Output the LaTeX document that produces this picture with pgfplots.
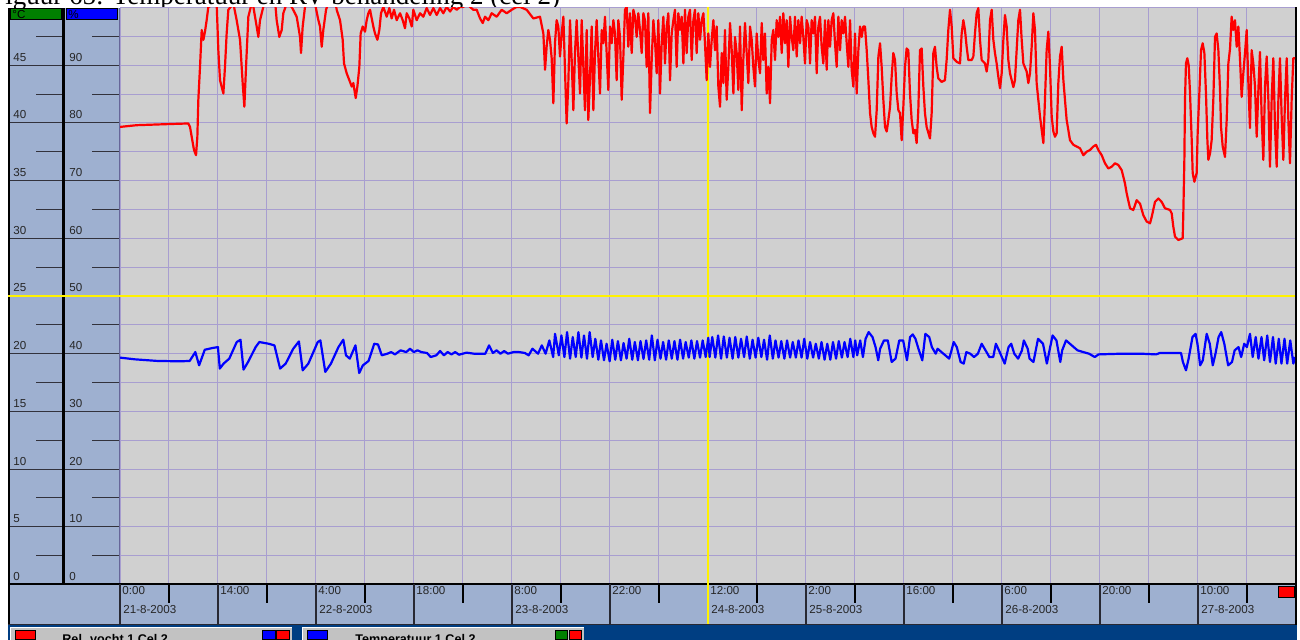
\documentclass[border=0pt]{standalone}
\usepackage{pgfplots}
\pgfplotsset{compat=1.18}
\usepackage{fontspec}
\setmainfont{Liberation Sans}
\newfontfamily\seriffont{Liberation Serif}
\definecolor{panelbg}{RGB}{158,176,208}
\definecolor{plotbg}{RGB}{208,208,208}
\definecolor{gridc}{RGB}{168,158,208}
\definecolor{legbar}{RGB}{0,62,130}
\definecolor{legbox}{RGB}{194,194,194}
\definecolor{hdrgreen}{RGB}{0,128,0}
\definecolor{hdrblue}{RGB}{0,0,255}
\definecolor{panelline}{RGB}{50,50,60}
\definecolor{sepline}{RGB}{40,40,50}
\definecolor{pureblue}{RGB}{0,0,255}
\definecolor{purered}{RGB}{255,0,0}
\newcommand\lab{\fontsize{5.8}{6}\selectfont}
\pgfplotsset{geo/.style={at={(60pt,27.75pt)}, anchor=south west, scale only axis,
  width=587.5pt, height=288.5pt, xmin=0, xmax=168}}
\begin{document}
\begin{tikzpicture}[x=0.5pt,y=0.5pt]
\useasboundingbox (0,0) rectangle (1300,640);
\fill[white] (0,0) rectangle (1300,640);
% title (cut off at the top)
\node[anchor=base west, inner sep=0, font=\seriffont\fontsize{13.5}{14}\selectfont] at (-10,635.5) {Figuur 65: Temperatuur en RV behandeling 2 (cel 2)};
% panels
\fill[panelbg] (8,56) rectangle (120,632);
\fill[panelbg] (8,15) rectangle (1297,56);
\fill[plotbg] (120,55.5) rectangle (1295,632.5);
% grid axis
\begin{axis}[geo, ymin=0, ymax=50, xtick={0,7,...,168}, ytick={0,2.5,...,50},
  xticklabels={}, yticklabels={}, grid=major, major grid style={draw=gridc, line width=0.5pt},
  major tick length=0pt, axis line style={draw=none}]
\addplot[draw=none] coordinates {(0,0)};
\end{axis}
% panel scales
\foreach \v in {0,5,...,45} {
  \pgfmathsetmacro\Y{55.5+\v*11.54}
  \pgfmathtruncatemacro\p{2*\v}
  \draw[panelline, line width=0.5pt] (8,\Y) -- (120,\Y);
  \node[anchor=west, inner sep=0, font=\lab, text=black!85] at (13,\Y+8) {\v};
  \node[anchor=west, inner sep=0, font=\lab, text=black!85] at (69,\Y+8) {\p};
}
\foreach \v in {2.5,7.5,...,47.5} {
  \pgfmathsetmacro\Y{55.5+\v*11.54}
  \draw[panelline, line width=0.5pt] (36,\Y) -- (62,\Y);
  \draw[panelline, line width=0.5pt] (92,\Y) -- (120,\Y);
}
% headers
\filldraw[fill=hdrgreen, draw=black, line width=0.5pt] (10,620) rectangle (61,631);
\filldraw[fill=hdrblue, draw=black, line width=0.5pt] (66,620) rectangle (117,631);
\node[anchor=west, inner sep=0, font=\lab] at (12,625.5) {°C};
\node[anchor=west, inner sep=0, font=\lab] at (68,625.5) {\%};
% borders
\fill[black] (8,15) rectangle (10,632);
\fill[black] (61.5,56) rectangle (64.5,632);
\draw[gray!80!blue, line width=0.5pt] (119.5,56) -- (119.5,632);
\fill[black] (8,54.5) rectangle (1297,56.5);
\fill[sepline] (8,14.5) rectangle (1297,16);
\fill[black] (1295,15) rectangle (1297,632.5);
% time axis panel
\foreach \k/\tm/\dt in {0/0:00/21-8-2003, 1/14:00/, 2/4:00/22-8-2003, 3/18:00/, 4/8:00/23-8-2003,
  5/22:00/, 6/12:00/24-8-2003, 7/2:00/25-8-2003, 8/16:00/, 9/6:00/26-8-2003, 10/20:00/, 11/10:00/27-8-2003} {
  \draw[sepline, line width=0.75pt] (120+98*\k,16) -- (120+98*\k,56);
  \draw[black, line width=0.6pt] (169+98*\k,37) -- (169+98*\k,56);
  \node[anchor=west, inner sep=0, font=\lab, text=black!85] at (122+98*\k,49.5) {\tm};
  \node[anchor=west, inner sep=0, font=\lab, text=black!85] at (123+98*\k,30) {\dt};
}
\filldraw[fill=purered, draw=black, line width=0.5pt] (1278,42) rectangle (1294,53);
% yellow cursor lines
\draw[yellow, line width=0.6pt] (8,344) -- (1295,344);
\draw[yellow, line width=0.6pt] (708,16) -- (708,632.5);
% temperature (blue, degC)
\begin{axis}[geo, ymin=0, ymax=50, hide axis]
\addplot[pureblue, line width=1.1pt, line join=round] coordinates {
(0,19.66)(2.15,19.51)(5.39,19.37)(8.62,19.34)(9.96,19.37)(10.77,20.14)(11.31,18.99)(12.12,20.34)(13.19,20.49)(14.00,20.57)(14.27,18.71)(14.81,19.14)(15.62,19.57)(16.69,21.01)(17.23,21.21)(17.66,18.62)(18.31,19.28)(19.39,20.57)(19.92,21.01)(21.27,20.86)(22.08,20.72)(22.89,18.71)(23.69,19.14)(24.77,20.43)(25.58,21.06)(26.12,18.56)(26.93,19.14)(28.27,21.01)(28.65,21.15)(29.35,18.42)(30.16,19.14)(31.23,20.57)(31.93,21.21)(32.31,19.86)(32.85,19.57)(33.66,20.72)(34.20,18.33)(34.73,18.99)(35.54,19.37)(36.35,20.86)(36.89,20.80)(37.43,19.86)(38.23,20.00)(38.77,20.14)(39.31,19.94)(40.12,20.29)(40.93,20.14)(41.47,20.43)(42.00,20.14)(42.54,20.29)(43.08,20.14)(43.89,20.06)(44.43,19.71)(45.23,19.86)(45.77,20.23)(46.31,19.86)(46.85,20.14)(47.39,19.94)(47.93,20.14)(48.47,19.91)(49.54,20.09)(50.62,20.00)(52.23,20.00)(52.77,20.72)(53.31,20.06)(53.85,20.29)(54.39,20.00)(54.93,20.23)(55.47,20.00)(56.27,20.14)(57.08,20.14)(57.89,20.06)(58.43,19.86)(58.97,20.43)(59.77,20.00)(60.31,20.72)(60.85,20.00)(61.39,21.15)(61.93,19.71)(62.20,21.72)(62.74,19.86)
(63.11,21.58)(63.54,19.71)(63.92,21.87)(64.35,19.57)(64.73,21.44)(65.16,19.71)(65.54,21.87)(65.97,19.66)(66.34,21.58)(66.77,19.57)(67.15,21.87)(67.58,19.71)(67.96,21.29)(68.39,19.48)(68.77,21.15)(69.20,19.43)(69.57,20.86)(70.01,19.34)(70.38,21.21)(70.81,19.48)(71.19,21.09)(71.62,19.43)(72.00,20.92)(72.43,19.57)(72.81,21.29)(73.24,19.48)(73.61,21.01)(74.05,19.43)(74.42,21.09)(74.85,19.54)(75.23,21.15)(75.66,19.48)(76.04,21.58)(76.47,19.43)(76.85,21.21)(77.28,19.57)(77.65,21.01)(78.08,19.48)(78.46,21.15)(78.89,19.57)(79.27,21.09)(79.70,19.48)(80.08,21.21)(80.51,19.57)(80.88,21.01)(81.32,19.66)(81.69,21.15)(82.12,19.57)(82.50,21.09)(82.93,19.66)(83.31,21.15)(83.74,19.71)(84.11,21.38)
(84.30,19.71)(84.68,21.44)(85.12,19.66)(85.51,21.58)(85.94,19.57)(86.33,21.49)(86.77,19.66)(87.15,21.38)(87.59,19.57)(87.97,21.44)(88.41,19.66)(88.79,21.29)(89.23,19.71)(89.61,21.49)(90.05,19.57)(90.44,21.21)(90.88,19.66)(91.26,21.38)(91.70,19.71)(92.08,21.21)(92.52,19.48)(92.90,21.58)(93.34,19.57)(93.72,21.15)(94.16,19.66)(94.55,21.09)(94.99,19.57)(95.37,21.15)(95.81,19.66)(96.19,21.01)(96.63,19.66)(97.01,21.15)(97.45,19.66)(97.83,21.29)(98.27,19.57)(98.66,21.01)(99.10,19.66)(99.48,20.86)(99.92,19.57)(100.30,21.01)(100.74,19.48)(101.12,20.86)(101.56,19.48)(101.94,21.01)(102.38,19.57)(102.77,21.09)(103.21,19.66)(103.59,21.01)(104.03,19.71)(104.41,21.29)(104.85,19.71)(105.12,21.15)(105.40,19.86)(105.83,21.15)(106.22,19.71)(106.60,21.29)(107.04,21.87)(107.59,21.44)(108.03,20.57)(108.41,19.43)(108.68,20.43)(109.23,21.15)(109.78,21.15)(110.33,19.28)(110.88,19.57)(111.42,21.15)(111.97,21.15)(112.52,19.43)(112.96,21.44)(113.34,21.67)(113.73,21.29)(114.16,20.43)(114.71,19.43)(115.15,21.72)(115.70,21.44)(116.08,20.57)(116.63,20.00)(116.90,20.43)(117.45,20.14)(118.00,19.86)(118.55,19.57)(118.82,20.14)(119.20,21.01)(119.64,20.57)(120.19,19.28)(120.63,19.14)(121.01,20.14)(121.56,20.00)(122.11,19.71)(122.66,20.00)(123.20,20.86)(123.75,20.29)(124.30,19.71)(124.85,19.71)(125.23,20.86)(125.67,20.29)(126.49,19.14)(127.04,20.57)(127.42,20.86)(127.86,20.00)(128.41,19.57)(128.96,20.29)(129.23,21.15)(129.78,20.43)(130.05,19.57)(130.60,19.28)(131.26,21.29)(131.97,20.86)(132.52,19.14)(132.90,20.29)(133.34,21.58)(133.89,21.15)(134.44,19.28)(134.71,20.29)(135.26,21.15)(136.08,20.72)(136.90,20.29)(137.73,20.14)(138.55,20.00)(139.37,19.71)(139.92,19.94)(143.21,20.00)(145.95,20.00)(148.14,19.94)(148.68,20.06)(151.70,20.06)(151.97,19.28)(152.41,18.56)(152.79,19.57)(153.34,21.44)(153.78,21.72)(154.05,20.86)(154.44,18.99)(154.82,19.43)(155.37,21.72)(155.81,20.86)(156.24,18.99)(156.63,20.00)(157.07,21.44)(157.45,21.87)(157.89,20.86)(158.44,18.99)(158.99,19.28)(159.37,20.29)(159.92,20.57)(160.30,19.71)(160.74,20.86)(161.12,20.57)(161.56,21.72)(161.95,19.71)(162.38,21.44)(162.77,19.57)(163.21,21.44)(163.59,19.43)(164.03,21.58)(164.42,19.28)(164.85,21.44)(165.24,19.14)(165.68,21.29)(166.06,19.14)(166.50,21.29)(166.88,19.14)(167.32,21.15)(167.76,19.14)(168.00,19.71)
};
\end{axis}
% relative humidity (red, %)
\begin{axis}[geo, ymin=0, ymax=100, hide axis]
\addplot[purered, line width=1.1pt, line join=round] coordinates {
(0,79.3)(2.38,79.6)(4.77,79.7)(7.15,79.8)(9.77,79.9)(10.01,79.3)(10.25,77.6)(10.58,75.3)(10.87,74.4)(11.06,77.6)(11.20,84.0)(11.44,89.7)(11.68,96.1)(11.92,94.4)(12.15,95.8)(12.39,97.8)(12.63,100.1)(13.82,100.7)(14.06,92.6)(14.30,87.4)(14.78,85.1)(15.01,89.7)(15.25,95.5)(15.49,99.6)(16.21,100.7)(16.68,97.8)(17.16,94.4)(17.54,86.9)(17.78,82.8)(18.02,89.7)(18.35,98.4)(18.83,100.7)(19.07,100.1)(19.54,96.7)(19.78,94.9)(20.02,97.8)(20.49,100.1)(20.97,101.3)(22.16,101.3)(22.40,97.8)(22.78,94.9)(23.12,96.1)(23.35,99.0)(23.83,100.7)(24.55,100.1)(25.26,98.4)(25.74,94.9)(25.88,92.1)(26.12,96.7)(26.45,100.1)(26.93,101.3)(27.88,100.7)(28.36,97.8)(28.60,96.7)(28.84,93.2)(29.07,96.1)(29.46,99.6)(29.93,101.3)(30.74,101.3)(30.98,99.6)(31.46,97.8)(31.84,94.4)(32.03,90.3)(32.41,88.6)(32.79,87.4)(33.13,86.3)(33.36,86.9)(33.70,84.3)(33.94,86.3)(34.22,89.7)(34.41,95.5)(34.70,96.7)(35.03,95.8)(35.27,97.8)(35.51,99.0)(35.75,99.6)(36.22,96.7)(36.46,95.5)(36.80,94.4)(37.08,96.1)(37.32,99.0)(37.65,100.1)(38.13,98.4)(38.51,99.9)(38.84,98.1)(39.18,99.6)(39.56,97.8)(40.04,99.0)(40.42,97.8)(40.75,96.4)(40.99,99.0)(41.37,98.1)(41.71,96.7)(41.94,99.6)(42.42,97.8)(42.90,99.0)(43.37,98.4)(43.85,99.9)(44.33,98.7)(44.80,99.9)(45.28,98.7)(45.76,99.9)(46.23,99.0)(46.71,100.1)(47.19,99.3)(47.66,100.1)(48.14,99.6)(48.62,100.1)(49.09,100.1)(49.57,100.7)(50.05,100.1)(50.52,99.6)(51.00,99.6)(51.48,98.1)(51.86,97.3)(52.19,98.4)(52.67,97.8)(53.14,99.0)(53.86,98.4)(54.57,99.6)(55.29,99.0)(56.00,99.6)(56.72,100.1)
(57.19,100.1)(58.14,99.6)(59.10,98.1)(60.05,98.4)(60.53,95.5)(60.77,89.2)(61.00,93.2)(61.24,96.1)(61.48,94.4)(61.72,91.2)(61.96,83.4)(62.19,93.8)(62.43,97.8)(62.67,96.7)(62.91,91.5)(63.15,95.5)(63.39,98.4)(63.86,79.9)(64.10,86.9)(64.34,97.8)(64.58,90.9)(64.82,82.2)(65.05,92.1)(65.29,97.8)(65.53,91.5)(65.77,85.1)(66.01,97.8)(66.25,89.7)(66.48,82.2)(66.72,96.1)(66.96,80.5)(67.20,88.0)(67.44,96.7)(67.68,82.2)(67.91,92.1)(68.15,97.8)(68.63,85.1)(68.87,96.1)(69.11,93.8)(69.34,98.4)(69.58,92.1)(69.82,85.7)(70.06,96.7)(70.30,93.8)(70.54,97.8)(70.77,95.5)(71.01,87.4)(71.25,97.8)(71.49,94.9)(71.73,84.0)(71.97,91.5)(72.20,99.6)(72.44,100.1)(72.68,93.2)(72.92,99.0)(73.16,92.1)(73.40,99.6)(73.63,98.4)(73.87,94.9)(74.11,99.0)(74.35,96.1)(74.59,92.1)(74.83,99.0)(75.06,97.8)(75.30,89.7)(75.54,99.0)(75.78,81.7)(76.02,90.9)(76.26,97.8)(76.49,94.4)(76.73,88.6)(76.97,97.8)(77.21,85.1)(77.45,93.8)(77.69,98.4)(77.92,90.3)(78.16,96.7)(78.40,99.0)(78.64,87.4)(78.88,95.5)(79.12,97.8)(79.35,99.6)(79.59,89.7)(79.83,99.0)(80.07,96.1)(80.31,98.4)(80.55,90.3)(80.78,99.6)(81.02,92.1)(81.26,98.4)(81.50,99.6)(81.74,90.9)(81.98,97.8)(82.21,99.6)(82.45,92.1)(82.69,99.0)(82.93,94.4)(83.17,97.8)(83.41,99.0)(83.64,93.8)(83.88,87.4)(84.12,95.5)(84.36,89.7)(84.60,94.4)(84.84,97.8)(85.07,92.6)(85.31,96.7)(85.55,86.3)(85.79,82.8)(86.03,92.1)(86.27,86.9)(86.50,96.1)(86.74,84.0)(86.98,89.7)(87.22,97.3)(87.46,92.6)(87.70,85.1)(87.93,94.9)(88.17,92.1)(88.41,85.7)(88.65,96.7)(88.89,82.2)(89.12,90.9)(89.36,97.3)(89.60,92.1)(89.84,86.9)(90.08,96.7)(90.32,94.4)(90.55,89.7)(90.79,86.3)(91.03,95.5)(91.27,90.9)(91.51,88.6)(91.75,97.3)(91.98,90.9)(92.22,95.5)(92.46,85.1)(92.70,89.7)(92.94,83.4)(93.18,94.4)(93.41,96.1)(93.65,90.9)(93.89,97.8)(94.13,94.9)(94.37,98.4)(94.61,92.1)(94.84,99.0)(95.08,93.8)(95.32,97.8)(95.56,89.7)(95.80,98.4)(96.03,94.9)(96.27,92.6)(96.51,98.4)(96.75,91.5)(96.99,97.8)(97.23,93.8)(97.46,98.4)(97.70,94.9)(97.94,90.3)(98.18,97.8)(98.42,96.7)(98.66,90.3)(98.89,97.8)(99.13,95.5)(99.37,98.4)(99.61,88.6)(99.85,96.7)(100.09,98.4)(100.32,93.2)(100.56,90.3)(100.80,97.8)(101.04,89.2)(101.28,97.8)(101.52,93.2)(101.75,97.8)(101.99,99.0)(102.23,93.8)(102.47,89.7)(102.71,98.4)(102.95,92.6)(103.18,97.8)(103.42,95.5)(103.66,98.4)(103.90,93.8)(104.14,89.7)(104.38,97.8)(104.61,89.2)(104.85,86.3)(105.09,95.5)(105.33,85.1)(105.57,92.6)(105.81,96.7)(106.04,94.9)(106.28,96.7)(106.52,96.7)(106.76,92.6)(107.00,87.4)(107.24,81.7)(107.47,79.3)(107.71,78.2)(107.95,77.6)(108.19,82.2)(108.43,91.5)(108.67,93.8)(108.90,89.7)(109.14,84.0)(109.38,79.3)(109.62,78.5)(109.86,80.5)(110.10,82.8)(110.33,88.0)(110.57,92.1)(110.81,90.9)(111.05,85.1)(111.29,82.2)
(111.52,81.7)(111.76,77.0)(112.00,82.8)(112.24,89.7)(112.47,92.9)(112.71,92.6)(112.95,85.1)(113.19,80.5)(113.43,78.2)(113.66,78.8)(113.90,76.5)(114.14,82.2)(114.38,92.6)(114.62,92.9)(114.86,86.3)(115.09,81.7)(115.33,79.3)(115.81,77.3)(116.05,81.7)(116.29,92.1)(116.52,93.2)(116.76,89.7)(117.00,87.7)(117.48,87.1)(117.95,87.4)(118.19,90.9)(118.43,96.1)(118.67,99.6)(118.91,96.7)(119.15,91.2)(119.62,90.6)(120.10,90.3)(120.34,95.5)(120.58,97.8)(120.81,96.1)(121.05,93.2)(121.29,90.9)(121.77,90.9)(122.01,91.5)(122.24,95.5)(122.48,99.0)(122.72,99.9)(122.96,94.4)(123.20,90.9)(123.67,90.3)(123.91,88.9)(124.15,90.9)(124.39,97.8)(124.63,99.6)(124.87,94.4)(125.10,92.1)(125.34,90.3)(125.58,88.0)(125.82,86.0)(126.06,88.6)(126.30,94.4)(126.53,98.7)(126.77,96.7)(127.01,90.9)(127.25,88.6)(127.73,86.2)(127.96,87.4)(128.20,92.6)(128.44,97.8)(128.68,99.6)(128.92,94.4)(129.16,90.3)(129.63,88.9)(129.87,86.9)(130.11,88.6)(130.35,93.2)(130.59,99.0)(130.82,96.1)(131.06,86.9)(131.30,84.0)(131.54,81.1)(131.78,78.8)(132.02,76.5)(132.25,84.0)(132.49,92.6)(132.73,95.8)(132.97,89.7)(133.21,81.1)(133.45,78.5)(133.68,77.6)(133.92,78.2)(134.16,86.9)(134.40,91.5)(134.64,93.2)(134.88,87.4)(135.11,84.0)(135.35,80.5)(135.83,77.0)(136.31,76.2)(136.78,75.9)(137.26,75.6)(137.74,74.4)(138.21,75.0)(138.69,75.3)(139.16,75.9)(139.55,76.2)(139.88,75.3)(140.36,74.4)(140.83,73.0)(141.31,72.1)(141.79,72.4)(142.26,73.0)(142.74,72.7)(143.22,71.8)(143.69,69.5)(143.93,67.8)(144.41,65.2)(144.88,64.9)(145.36,66.6)(145.84,66.0)(146.31,64.0)(146.79,62.9)(147.27,62.6)(147.51,63.7)(147.98,66.3)(148.46,66.9)(148.94,66.3)(149.41,65.2)(150.13,64.9)(150.37,64.3)(150.60,62.0)(150.84,60.3)(151.32,59.7)(151.94,60.0)(152.03,64.3)(152.18,73.6)(152.27,84.0)(152.41,90.3)(152.60,91.2)(152.80,90.0)(152.99,85.1)(153.23,77.0)(153.37,71.3)(153.61,69.8)(153.94,71.3)(154.08,78.2)(154.32,85.1)(154.56,92.6)(154.80,93.8)(155.04,92.1)(155.27,85.1)(155.47,77.0)(155.61,73.6)(155.85,74.7)(156.08,77.0)(156.32,84.0)(156.56,94.9)(156.80,95.5)(157.04,92.6)(157.28,85.7)(157.42,79.3)(157.66,75.9)(157.99,74.1)(158.23,80.5)(158.47,90.3)(158.71,92.9)(158.94,98.4)(159.18,96.1)(159.42,97.8)(159.66,93.2)(159.90,96.7)(160.14,90.9)(160.37,84.5)(160.61,88.6)(160.85,92.1)(161.09,96.1)(161.33,86.9)(161.56,79.1)(161.80,92.6)(162.04,90.3)(162.28,86.3)(162.52,77.6)(162.76,85.7)(162.99,92.3)(163.23,81.1)(163.47,73.6)(163.71,86.3)(163.95,91.5)(164.19,84.0)(164.42,72.4)(164.66,84.0)(164.90,91.2)(165.14,79.3)(165.38,72.4)(165.62,84.0)(165.85,91.2)(166.09,81.1)(166.33,73.6)(166.57,84.0)(166.81,91.2)(167.05,80.5)(167.28,73.0)(167.52,84.0)(167.76,91.2)(168.00,91.2)
};
\end{axis}
% legend strip
\fill[legbar] (8,0) rectangle (1297,14.5);
\fill[legbox] (10,0) rectangle (292,12.7);
\draw[white, line width=0.5pt] (10.5,0) -- (10.5,12.2) -- (292,12.2);
\filldraw[fill=purered, draw=black, line width=0.5pt] (15,0) rectangle (35,9.3);
\node[anchor=base west, inner sep=0, font=\fontsize{6.3}{7}\selectfont\bfseries] at (62,-3.7) {Rel. vocht 1 Cel 2};
\filldraw[fill=pureblue, draw=black, line width=0.5pt] (262,0) rectangle (275,9.3);
\filldraw[fill=purered, draw=black, line width=0.5pt] (276,0) rectangle (289,9.3);
\fill[legbox] (302,0) rectangle (584,12.7);
\draw[white, line width=0.5pt] (302.5,0) -- (302.5,12.2) -- (584,12.2);
\filldraw[fill=pureblue, draw=black, line width=0.5pt] (307,0) rectangle (327,9.3);
\node[anchor=base west, inner sep=0, font=\fontsize{6.3}{7}\selectfont\bfseries] at (355,-3.7) {Temperatuur 1 Cel 2};
\filldraw[fill=hdrgreen, draw=black, line width=0.5pt] (555,0) rectangle (567,9.3);
\filldraw[fill=purered, draw=black, line width=0.5pt] (569,0) rectangle (581,9.3);
\end{tikzpicture}
\end{document}
